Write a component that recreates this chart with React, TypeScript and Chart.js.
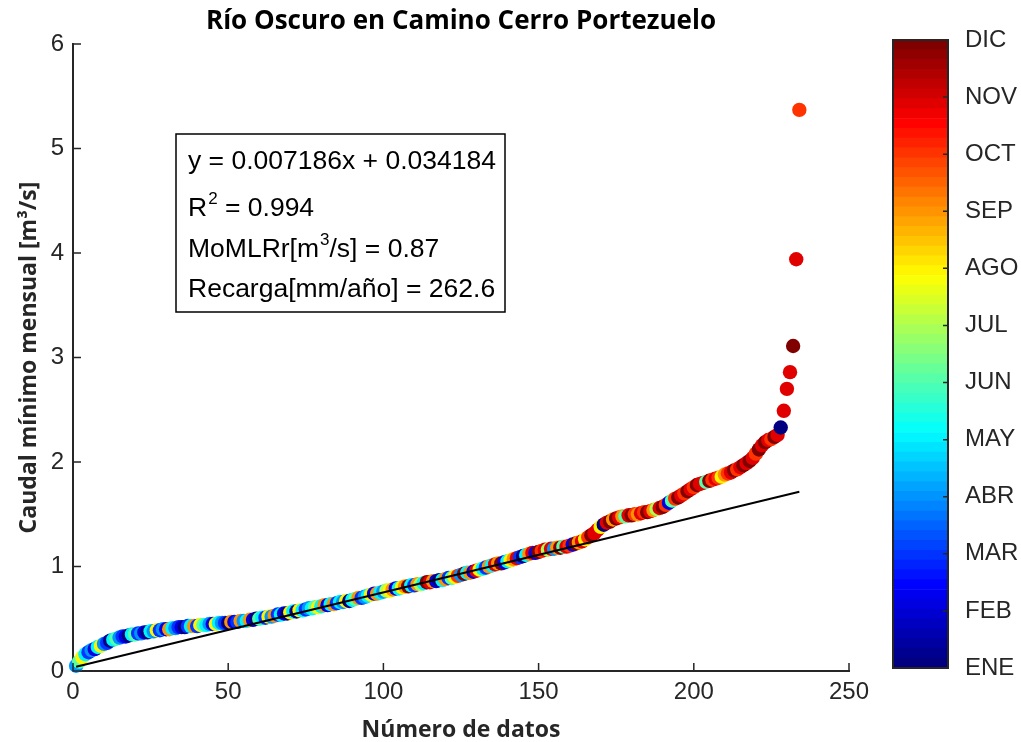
import React, { useEffect, useRef } from "react";
import { Chart, registerables } from "chart.js";

Chart.register(...registerables);

// Caudal mínimo mensual ordenado (m3/s), número de datos 1..234
const caudal: number[] = [
  0.05, 0.09, 0.13, 0.16, 0.18, 0.20, 0.21, 0.23, 0.24, 0.26,
  0.27, 0.29, 0.30, 0.31, 0.32, 0.33, 0.33, 0.34, 0.35, 0.35,
  0.36, 0.36, 0.37, 0.37, 0.38, 0.38, 0.39, 0.39, 0.40, 0.40,
  0.40, 0.41, 0.41, 0.42, 0.42, 0.42, 0.43, 0.43, 0.43, 0.43,
  0.44, 0.44, 0.44, 0.45, 0.45, 0.45, 0.46, 0.46, 0.46, 0.46,
  0.47, 0.47, 0.47, 0.48, 0.48, 0.48, 0.49, 0.49, 0.50, 0.50,
  0.51, 0.51, 0.52, 0.52, 0.53, 0.54, 0.54, 0.55, 0.55, 0.56,
  0.57, 0.57, 0.58, 0.58, 0.59, 0.60, 0.60, 0.61, 0.61, 0.62,
  0.63, 0.63, 0.64, 0.64, 0.65, 0.66, 0.66, 0.67, 0.67, 0.68,
  0.69, 0.70, 0.70, 0.71, 0.72, 0.73, 0.74, 0.74, 0.75, 0.76,
  0.77, 0.77, 0.78, 0.79, 0.79, 0.80, 0.81, 0.81, 0.82, 0.82,
  0.83, 0.83, 0.84, 0.85, 0.85, 0.86, 0.86, 0.87, 0.87, 0.88,
  0.89, 0.89, 0.90, 0.91, 0.92, 0.93, 0.94, 0.94, 0.95, 0.96,
  0.97, 0.98, 0.99, 1.00, 1.01, 1.02, 1.03, 1.03, 1.04, 1.05,
  1.06, 1.07, 1.08, 1.09, 1.10, 1.11, 1.12, 1.13, 1.13, 1.14,
  1.15, 1.16, 1.16, 1.17, 1.17, 1.18, 1.18, 1.19, 1.19, 1.20,
  1.21, 1.22, 1.23, 1.24, 1.26, 1.28, 1.30, 1.32, 1.35, 1.38,
  1.40, 1.42, 1.43, 1.45, 1.46, 1.47, 1.48, 1.48, 1.49, 1.49,
  1.50, 1.50, 1.51, 1.52, 1.52, 1.53, 1.54, 1.55, 1.56, 1.57,
  1.59, 1.61, 1.63, 1.65, 1.66, 1.68, 1.70, 1.72, 1.74, 1.76,
  1.78, 1.79, 1.80, 1.81, 1.82, 1.83, 1.84, 1.85, 1.86, 1.88,
  1.89, 1.90, 1.92, 1.93, 1.95, 1.97, 1.99, 2.01, 2.04, 2.08,
  2.12, 2.16, 2.19, 2.21, 2.22, 2.24, 2.26, 2.33, 2.49, 2.70,
  2.86, 3.11, 3.94, 5.37,
];

// Mes de cada dato (1 = ENE ... 12 = DIC)
const mes: number[] = [
  4, 6, 8, 5, 3, 4, 2, 5, 8, 4, 3, 1, 5, 6, 4, 3, 2, 1, 5, 6,
  3, 4, 2, 1, 5, 4, 8, 3, 4, 2, 9, 5, 4,
  3, 2, 1, 3, 5, 9, 3, 8, 6, 5, 4, 2, 8, 5, 4, 3, 1, 9, 2, 3,
  9, 4, 5, 9, 2, 1, 6, 5, 3, 8, 4, 9, 3, 5,
  2, 1, 8, 5, 1, 8, 5, 3, 4, 5, 6, 8, 5, 9, 2, 5, 9, 3, 5, 4,
  8, 1, 5, 6, 9, 3, 4, 5, 8, 2, 9, 5, 4,
  7, 8, 9, 2, 5, 8, 9, 12, 5, 3, 9, 7, 5, 12, 11, 9, 2, 1, 5, 9,
  3, 6, 8, 10, 4, 12, 5, 9, 2, 11, 8, 5, 3, 9,
  5, 11, 9, 12, 2, 5, 8, 9, 11, 3, 1, 5, 9, 11, 2, 12, 10, 11, 7, 11,
  4, 9, 12, 6, 11, 10, 2, 12, 9, 11, 8, 10, 12, 11,
  11, 8, 1, 11, 12, 9, 12, 11, 9, 6, 11, 12, 10, 9, 11, 10, 12, 11, 9, 7,
  11, 12, 10, 2, 6, 10, 12, 11, 10, 12, 11, 10, 12, 11,
  11, 6, 12, 10, 11, 10, 8, 9, 10, 11, 12, 10, 11, 12, 11, 12, 11, 10, 12, 11,
  12, 11, 10, 12, 11,
  1, 11, 11, 11, 12, 11, 10,
];

const mesLabels = ["ENE", "FEB", "MAR", "ABR", "MAY", "JUN", "JUL", "AGO", "SEP", "OCT", "NOV", "DIC"];
const xTicks = [0, 50, 100, 150, 200, 250];
const yTicks = [0, 1, 2, 3, 4, 5, 6];

// Recta de ajuste
const pendiente = 0.007186;
const intercepto = 0.034184;
const ajusteX = [1, 234];

const titulo = "Río Oscuro en Camino Cerro Portezuelo";
const tituloX = "Número de datos";
const tituloY = "Caudal mínimo mensual [m³/s]";

// Líneas del recuadro: [texto normal, superíndice, texto normal]
const anotacion: [string, string, string][] = [
  ["y = 0.007186x + 0.034184", "", ""],
  ["R", "2", " = 0.994"],
  ["MoMLRr[m", "3", "/s] = 0.87"],
  ["Recarga[mm/año] = 262.6", "", ""],
];

const nivelesColor = 64;

function jet(t: number): string {
  const c = (v: number) => Math.max(0, Math.min(1, v));
  const r = c(1.5 - Math.abs(4 * t - 3));
  const g = c(1.5 - Math.abs(4 * t - 2));
  const b = c(1.5 - Math.abs(4 * t - 1));
  return `rgb(${Math.round(r * 255)},${Math.round(g * 255)},${Math.round(b * 255)})`;
}

function colorMes(m: number): string {
  const idx = Math.round(((m - 1) / 11) * (nivelesColor - 1));
  return jet(idx / (nivelesColor - 1));
}

const AXIS = "#262626";
const TICK_FONT = "'Liberation Sans', Arial, sans-serif";
const LABEL_FONT = "'Open Sans', sans-serif";

export default function App() {
  const mainRef = useRef<HTMLCanvasElement>(null);
  const cbRef = useRef<HTMLCanvasElement>(null);

  useEffect(() => {
    if (!mainRef.current || !cbRef.current) return;

    const inwardTicks = {
      id: "inwardTicks",
      afterDraw(chart: any) {
        const { ctx, chartArea, scales } = chart;
        ctx.save();
        ctx.strokeStyle = AXIS;
        ctx.lineWidth = 1.5;
        ctx.beginPath();
        xTicks.forEach((v) => {
          const px = scales.x.getPixelForValue(v);
          ctx.moveTo(px, chartArea.bottom);
          ctx.lineTo(px, chartArea.bottom - 8);
        });
        yTicks.forEach((v) => {
          const py = scales.y.getPixelForValue(v);
          ctx.moveTo(chartArea.left, py);
          ctx.lineTo(chartArea.left + 8, py);
        });
        ctx.stroke();
        ctx.restore();
      },
    };

    const recuadro = {
      id: "recuadro",
      afterDraw(chart: any) {
        const { ctx, chartArea } = chart;
        const left = chartArea.left + 103;
        const top = chartArea.top + 90;
        const w = 329;
        const h = 178;
        ctx.save();
        ctx.fillStyle = "#ffffff";
        ctx.fillRect(left, top, w, h);
        ctx.strokeStyle = "#000000";
        ctx.lineWidth = 1.5;
        ctx.strokeRect(left, top, w, h);
        const baselines = [35, 82, 123, 163];
        ctx.fillStyle = "#000000";
        ctx.textBaseline = "alphabetic";
        anotacion.forEach((parts, i) => {
          let x = left + 12;
          const y = top + baselines[i];
          ctx.font = `26.5px ${TICK_FONT}`;
          ctx.fillText(parts[0], x, y);
          x += ctx.measureText(parts[0]).width;
          if (parts[1]) {
            ctx.font = `17px ${TICK_FONT}`;
            ctx.fillText(parts[1], x + 1, y - 12);
            x += ctx.measureText(parts[1]).width + 1;
          }
          if (parts[2]) {
            ctx.font = `26.5px ${TICK_FONT}`;
            ctx.fillText(parts[2], x, y);
          }
        });
        ctx.restore();
      },
    };

    const main = new Chart(mainRef.current, {
      type: "scatter",
      data: {
        datasets: [
          {
            label: "ajuste",
            data: ajusteX.map((x) => ({ x, y: pendiente * x + intercepto })),
            showLine: true,
            borderColor: "#000000",
            borderWidth: 2,
            pointRadius: 0,
            order: 0,
          } as any,
          {
            label: "caudal",
            data: caudal.map((v, i) => ({ x: i + 1, y: v })),
            backgroundColor: mes.map((m) => colorMes(m)),
            pointRadius: 7.2,
            borderWidth: 0,
            clip: false,
            order: 1,
          } as any,
        ],
      },
      options: {
        responsive: false,
        animation: false,
        events: [],
        layout: { padding: { left: 0, right: 172, top: 0, bottom: 0 } },
        plugins: {
          legend: { display: false },
          tooltip: { enabled: false },
          title: {
            display: true,
            text: titulo,
            fullSize: false,
            color: "#000000",
            font: { family: LABEL_FONT, size: 26, weight: "bold", lineHeight: 1.2 },
            padding: { top: 6.4, bottom: 6.4 },
          },
        },
        scales: {
          x: {
            type: "linear",
            min: 0,
            max: 250,
            afterFit: (s: any) => {
              s.height = 71;
            },
            afterBuildTicks: (s: any) => {
              s.ticks = xTicks.map((v) => ({ value: v }));
            },
            ticks: {
              color: AXIS,
              font: { family: TICK_FONT, size: 24 },
              padding: 7,
              maxRotation: 0,
            },
            grid: { display: false, drawTicks: false },
            border: { display: true, color: AXIS, width: 2 },
            title: {
              display: true,
              text: tituloX,
              color: AXIS,
              font: { family: LABEL_FONT, size: 23, weight: "bold", lineHeight: 1.0 },
              padding: { top: 0, bottom: 0 },
            },
          },
          y: {
            type: "linear",
            min: 0,
            max: 6,
            afterFit: (s: any) => {
              s.width = 73;
            },
            afterBuildTicks: (s: any) => {
              s.ticks = yTicks.map((v) => ({ value: v }));
            },
            ticks: {
              color: AXIS,
              font: { family: TICK_FONT, size: 24 },
              padding: 9,
            },
            grid: { display: false, drawTicks: false },
            border: { display: true, color: AXIS, width: 2 },
            title: {
              display: true,
              text: tituloY,
              color: AXIS,
              font: { family: LABEL_FONT, size: 23, weight: "bold", lineHeight: 1.0 },
              padding: { top: 18, bottom: 0 },
            },
          },
        },
      },
      plugins: [inwardTicks, recuadro],
    });

    const bandas = Array.from({ length: nivelesColor }, (_, i) => i);
    const cbBorder = {
      id: "cbBorder",
      afterDraw(chart: any) {
        const { ctx, chartArea, scales } = chart;
        ctx.save();
        ctx.strokeStyle = AXIS;
        ctx.lineWidth = 2;
        ctx.strokeRect(chartArea.left, chartArea.top, chartArea.right - chartArea.left, chartArea.bottom - chartArea.top);
        ctx.lineWidth = 1.5;
        ctx.beginPath();
        for (let m = 2; m <= 11; m++) {
          const py = scales.y.getPixelForValue(m);
          ctx.moveTo(chartArea.right, py);
          ctx.lineTo(chartArea.right - 5, py);
        }
        ctx.stroke();
        ctx.restore();
      },
    };

    const cb = new Chart(cbRef.current, {
      type: "bar",
      data: {
        labels: [""],
        datasets: bandas.map((i) => ({
          data: [[1 + (11 * i) / nivelesColor, 1 + (11 * (i + 1)) / nivelesColor]],
          backgroundColor: jet(i / (nivelesColor - 1)),
          borderWidth: 0,
          barPercentage: 1,
          categoryPercentage: 1,
        })) as any,
      },
      options: {
        responsive: false,
        animation: false,
        events: [],
        layout: { padding: { left: 893, right: 0, top: 40, bottom: 74 } },
        plugins: { legend: { display: false }, tooltip: { enabled: false }, title: { display: false } },
        scales: {
          x: { display: false, stacked: true },
          y: {
            position: "right",
            min: 1,
            max: 12,
            stacked: false,
            afterFit: (s: any) => {
              s.width = 73;
            },
            afterBuildTicks: (s: any) => {
              s.ticks = mesLabels.map((_, i) => ({ value: i + 1 }));
            },
            ticks: {
              color: AXIS,
              font: { family: TICK_FONT, size: 24 },
              padding: 17,
              callback: (v: any) => mesLabels[Math.round(Number(v)) - 1],
            },
            grid: { display: false, drawTicks: false },
            border: { display: false },
          },
        },
      },
      plugins: [cbBorder],
    });

    return () => {
      main.destroy();
      cb.destroy();
    };
  }, []);

  return (
    <div style={{ position: "fixed", left: 0, top: 0, width: 1021, height: 742, background: "#ffffff" }}>
      <canvas ref={mainRef} width={1021} height={742} style={{ position: "absolute", left: 0, top: 0, width: 1021, height: 742 }} />
      <canvas ref={cbRef} width={1021} height={742} style={{ position: "absolute", left: 0, top: 0, width: 1021, height: 742 }} />
    </div>
  );
}
